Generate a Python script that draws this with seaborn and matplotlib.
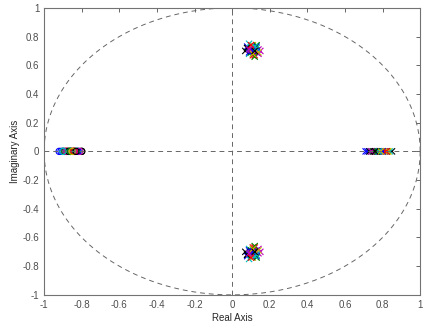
import numpy as np
import pandas as pd
import matplotlib
matplotlib.use("Agg")
import matplotlib.pyplot as plt
import seaborn as sns

# complex pole pair (real, imag of upper pole), real pole, real zero for each system
pole_re = [0.08, 0.10, 0.12, 0.09, 0.14, 0.11, 0.07, 0.13, 0.10, 0.12, 0.09,
           0.15, 0.11, 0.08, 0.13, 0.10, 0.12, 0.09, 0.14, 0.11, 0.10,
           0.09, 0.13, 0.11, 0.12, 0.10, 0.14, 0.08, 0.11, 0.12, 0.10,
           0.13, 0.09, 0.11, 0.12]
pole_im = [0.73, 0.70, 0.72, 0.68, 0.71, 0.74, 0.70, 0.69, 0.72, 0.67, 0.75,
           0.70, 0.71, 0.72, 0.73, 0.69, 0.70, 0.71, 0.68, 0.72, 0.70,
           0.69, 0.74, 0.67, 0.73, 0.71, 0.69, 0.72, 0.70, 0.66, 0.74,
           0.72, 0.71, 0.68, 0.70]
real_pole = [0.72, 0.74, 0.76, 0.78, 0.80, 0.82, 0.85, 0.73, 0.77, 0.79, 0.81,
             0.75, 0.83, 0.78, 0.71, 0.80, 0.76, 0.84, 0.79, 0.74, 0.77,
             0.78, 0.75, 0.81, 0.79, 0.76, 0.83, 0.73, 0.80, 0.77, 0.82,
             0.78, 0.74, 0.79, 0.76]
zero = [-0.92, -0.90, -0.88, -0.86, -0.84, -0.82, -0.80, -0.91, -0.87, -0.85,
        -0.83, -0.89, -0.81, -0.86, -0.90, -0.84, -0.88, -0.82, -0.85, -0.87,
        -0.80, -0.86, -0.89, -0.84, -0.83, -0.88, -0.85, -0.87, -0.82, -0.86,
        -0.84, -0.90, -0.81, -0.85, -0.83]
sys_colors = ["b", "g", "r", "c", "m", "y", "k"]

n = len(pole_re)
sys_ids = [f"s{i}" for i in range(n)]
palette = {s: sys_colors[i % len(sys_colors)] for i, s in enumerate(sys_ids)}

poles = pd.DataFrame({
    "re": pole_re + pole_re + real_pole,
    "im": pole_im + [-v for v in pole_im] + [0.0] * n,
    "sys": sys_ids * 3,
})
zeros = pd.DataFrame({"re": zero, "im": [0.0] * n, "sys": sys_ids})

sns.set_style("white")
plt.rcParams["font.family"] = ["Liberation Sans", "DejaVu Sans"]

fig = plt.figure(figsize=(4.24, 3.28), dpi=100)
ax = fig.add_axes([0.104, 0.101, 0.887, 0.875])

# reference lines and unit circle
t = np.linspace(0, 2 * np.pi, 400)
circ = pd.DataFrame({"x": np.cos(t), "y": np.sin(t)})
sns.lineplot(data=circ, x="x", y="y", sort=False, ax=ax, color="0.4",
             lw=0.7, linestyle=(0, (5, 4)), estimator=None)
ax.axhline(0, color="0.4", lw=0.7, ls=(0, (5, 4)))
ax.axvline(0, color="0.4", lw=0.7, ls=(0, (5, 4)))

sns.scatterplot(data=zeros, x="re", y="im", hue="sys", palette=palette,
                marker="o", s=20, linewidth=0.8, legend=False, ax=ax)
coll = ax.collections[-1]
coll.set_edgecolors(coll.get_facecolors())
coll.set_facecolors("none")

sns.scatterplot(data=poles, x="re", y="im", hue="sys", palette=palette,
                marker="x", s=20, linewidth=0.8, legend=False, ax=ax)

ax.set_xlim(-1, 1)
ax.set_ylim(-1, 1)
ax.set_xticks(np.arange(-1, 1.01, 0.2))
ax.set_yticks(np.arange(-1, 1.01, 0.2))
ax.set_xticklabels(["-1", "-0.8", "-0.6", "-0.4", "-0.2", "0", "0.2", "0.4", "0.6", "0.8", "1"])
ax.set_yticklabels(["-1", "-0.8", "-0.6", "-0.4", "-0.2", "0", "0.2", "0.4", "0.6", "0.8", "1"])
ax.tick_params(direction="in", length=3, labelsize=7, colors="0.3",
               top=True, right=True, width=0.6)
for sp in ax.spines.values():
    sp.set_color("0.45")
    sp.set_linewidth(0.8)
ax.set_xlabel("Real Axis", fontsize=7, labelpad=2)
ax.set_ylabel("Imaginary Axis", fontsize=7, labelpad=2)

fig.savefig("out.png", dpi=100)
